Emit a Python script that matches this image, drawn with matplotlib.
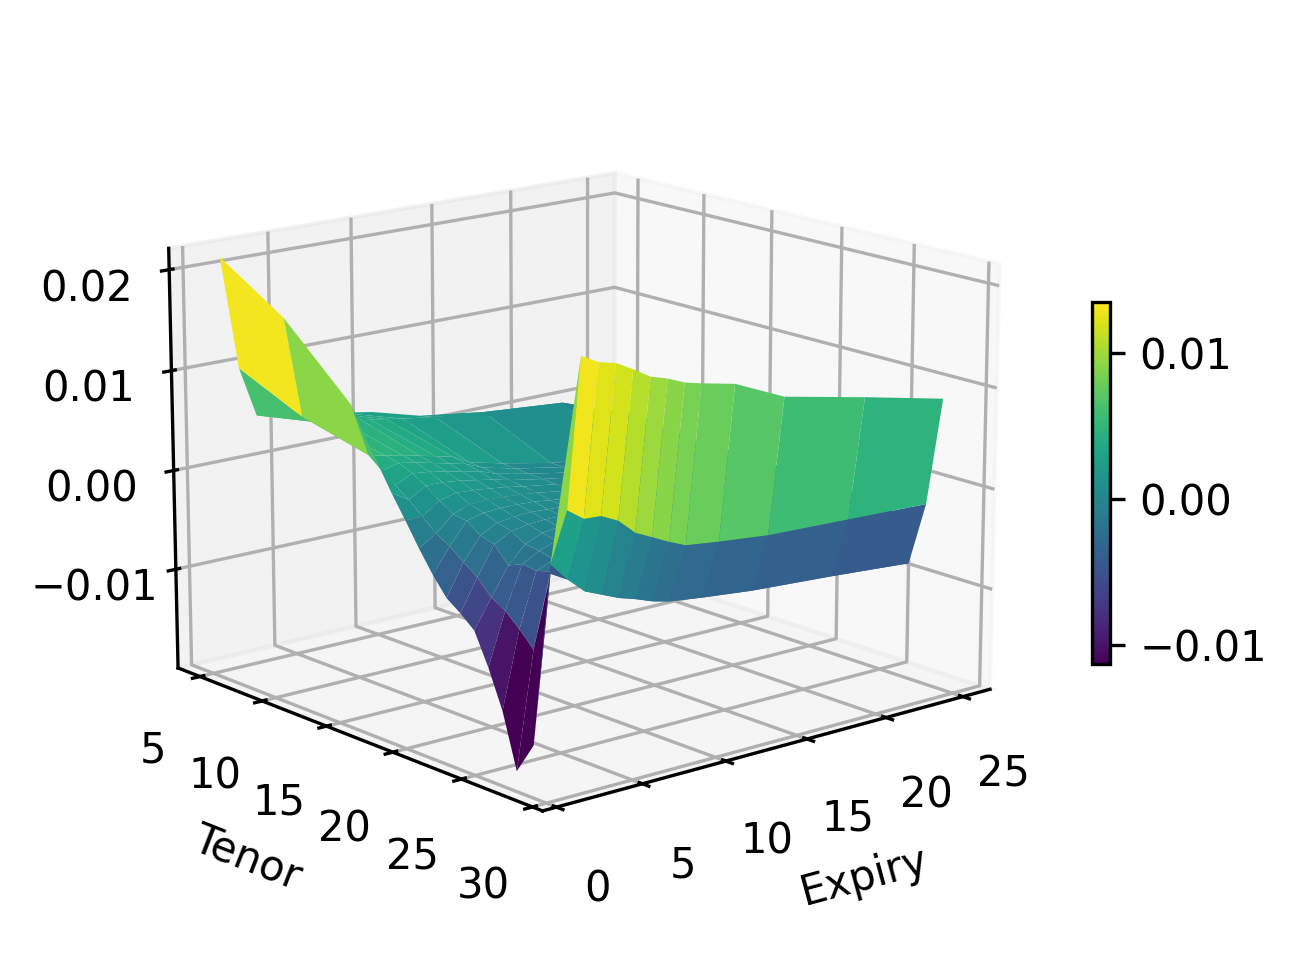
import numpy as np
import matplotlib
matplotlib.use('Agg')
import matplotlib.pyplot as plt

tenors = [3.4, 8.4, 13.5, 14.5, 15.5, 16.5, 17.5, 18.5, 19.5, 20.5, 21.5, 22.5, 23.5, 24.5, 25.5, 26.7, 27.9, 29, 30]
expiries = [2, 3, 4, 5, 6, 7, 8, 9, 11, 14, 19, 24]

# one row per tenor, one value per expiry
r01 = [.0205, .0091, .0040, .0040, .0036, .0033, .0029, .0026, .0020, .0006, -.0011, -.0021]
r02 = [.0163, .0062, .0053, .0054, .0054, .0046, .0043, .0040, .0035, .0030, .0023, -.0007]
r03 = [.0098, .0045, .0041, .0038, .0034, .0030, .0026, .0017, .0009, -.0001, -.0013, -.0017]
r04 = [.0071, .0034, .0038, .0035, .0031, .0027, .0023, .0016, .0008, -.0001, -.0012, -.0016]
r05 = [.0048, .0024, .0032, .0030, .0027, .0023, .0020, .0014, .0007, -.0002, -.0012, -.0016]
r06 = [.0024, .0014, .0024, .0024, .0022, .0019, .0016, .0012, .0006, -.0002, -.0012, -.0016]
r07 = [.0002, .0002, .0014, .0018, .0017, .0015, .0013, .0010, .0005, -.0002, -.0012, -.0016]
r08 = [-.0021, -.0010, .0005, .0011, .0012, .0011, .0010, .0008, .0003, -.0004, -.0013, -.0017]
r09 = [-.0042, -.0018, .0003, .0007, .0008, .0008, .0007, .0005, .0001, -.0006, -.0014, -.0018]
r10 = [-.0060, -.0029, -.0007, .0002, .0004, .0005, .0004, .0003, -.0001, -.0007, -.0015, -.0019]
r11 = [-.0070, -.0039, -.0011, -.0002, .0001, .0002, .0002, .0001, -.0003, -.0009, -.0016, -.0020]
r12 = [-.0082, -.0054, -.0027, -.0010, -.0003, -.0001, -.0001, -.0001, -.0005, -.0010, -.0017, -.0021]
r13 = [-.0113, -.0062, -.0021, -.0012, -.0006, -.0004, -.0003, -.0004, -.0007, -.0012, -.0018, -.0022]
r14 = [-.0150, -.0075, -.0023, -.0016, -.0009, -.0007, -.0006, -.0007, -.0009, -.0014, -.0019, -.0023]
r15 = [-.0203, -.0090, -.0019, -.0018, -.0013, -.0010, -.0009, -.0009, -.0011, -.0016, -.0021, -.0024]
r16 = [-.0172, -.0012, -.0019, -.0020, -.0016, -.0014, -.0013, -.0013, -.0014, -.0018, -.0023, -.0026]
r17 = [.0006, -.0012, -.0027, -.0034, -.0041, -.0046, -.0052, -.0056, -.0060, -.0065, -.0070, -.0076]
r18 = [.0062, .0050, .0049, .0041, .0026, .0018, .0010, .0003, -.0001, -.0006, -.0009, -.0012]
r19 = [.0208, .0199, .0195, .0186, .0176, .0171, .0164, .0160, .0153, .0131, .0114, .0096]

# thin facet on the near edge of the wall
sliver_tenor = [27.9, 29, 30]
sliver_expiry = [2, 2.05, 2]
sliver_z = [.0006, .0062, .0208]

Z = np.array([r01, r02, r03, r04, r05, r06, r07, r08, r09, r10, r11, r12, r13, r14, r15, r16, r17, r18, r19])
Y, X = np.meshgrid(tenors, expiries, indexing='ij')

fig = plt.figure(figsize=(4.32, 3.22), dpi=300)
ax = fig.add_axes([0.0895, 0.032, 0.699, 0.938], projection='3d')
ax.computed_zorder = False
surf = ax.plot_surface(X, Y, Z, cmap='viridis', linewidth=0, vmin=-0.0113, vmax=0.0135, zorder=1)
ax.plot_trisurf(sliver_expiry, sliver_tenor, sliver_z, cmap='viridis', linewidth=0,
                vmin=-0.0113, vmax=0.0135, zorder=2)
ax.view_init(elev=15, azim=-130)
ax.set_xlim(-0.8, 26.8)
ax.set_ylim(30.7, 3.2)
ax.set_zlim(-0.0201, 0.0221)
ax.set_xticks([0, 5, 10, 15, 20, 25])
ax.set_yticks([5, 10, 15, 20, 25, 30])
ax.set_zticks([-0.01, 0.0, 0.01, 0.02])
ax.set_xlabel('Expiry')
ax.set_ylabel('Tenor')

cax = fig.add_axes([1092 / 1296, 1 - 664 / 966, 18 / 1296, 362 / 966])
fig.colorbar(surf, cax=cax, ticks=[-0.01, 0.0, 0.01])

fig.savefig('out.png', dpi=300)
